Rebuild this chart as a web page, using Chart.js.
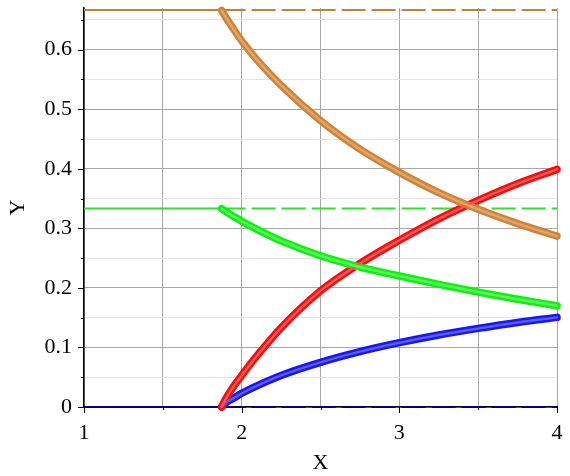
<!DOCTYPE html>
<html>
    <head>
        <title>X-Y curves</title>
        <style>
            body { margin: 0; background: #fff; }
            .chart-container { position: relative; width: 570px; height: 476px; }
        </style>
    </head>
    <body>
        <div class="chart-container">
            <canvas id="myChart" width="570" height="476"></canvas>
        </div>
        <script src="https://cdn.jsdelivr.net/npm/chart.js@4/dist/chart.umd.min.js"></script>
        <script>
            // values
            var xValues   = [1.873, 1.9, 1.95, 2.0, 2.1, 2.25, 2.5, 2.75, 3.0, 3.25, 3.5, 3.75, 4.0];
            var orangeY   = [0.666, 0.654, 0.634, 0.615, 0.582, 0.540, 0.481, 0.433, 0.394, 0.360, 0.332, 0.308, 0.287];
            var greenY    = [0.333, 0.328, 0.320, 0.312, 0.298, 0.279, 0.254, 0.235, 0.220, 0.206, 0.193, 0.181, 0.170];
            var redY      = [0.000, 0.014, 0.035, 0.053, 0.087, 0.133, 0.195, 0.241, 0.280, 0.316, 0.347, 0.375, 0.399];
            var blueY     = [0.000, 0.007, 0.015, 0.023, 0.036, 0.053, 0.075, 0.093, 0.108, 0.121, 0.132, 0.142, 0.1505];

            // flat lines: solid up to the break, dashed after it
            var lineX     = [1, 1.873, 4];
            var orangeLvl = 0.6667;
            var greenLvl  = 0.3333;
            var navyLvl   = 0;

            var xTickLabels = [1, 2, 3, 4];
            var yTickLabels = [0, 0.1, 0.2, 0.3, 0.4, 0.5, 0.6];

            var serif = "'Liberation Serif', 'Times New Roman', serif";

            function pts(xs, ys) {
                return xs.map(function (x, i) { return {x: x, y: ys[i]}; });
            }

            function flat(level, color, order) {
                return [{
                    data: pts([lineX[0], lineX[1]], [level, level]),
                    borderColor: color, borderWidth: 2, pointRadius: 0, order: order
                }, {
                    data: pts([lineX[1], lineX[2]], [level, level]),
                    borderColor: color, borderWidth: 2, borderDash: [24, 6], pointRadius: 0, order: order
                }];
            }

            function curve(ys, outer, inner) {
                return [{
                    data: pts(xValues, ys), borderColor: inner, borderWidth: 2.5,
                    pointRadius: 0, cubicInterpolationMode: 'monotone', borderCapStyle: 'round', order: 1
                }, {
                    data: pts(xValues, ys), borderColor: outer, borderWidth: 7.5,
                    pointRadius: 0, cubicInterpolationMode: 'monotone', borderCapStyle: 'round', order: 2
                }];
            }

            var datasets = []
                .concat(flat(orangeLvl, '#c97d35', 5))
                .concat(flat(greenLvl, '#33dd33', 5))
                .concat(flat(navyLvl, '#000080', 5))
                .concat(curve(orangeY, '#cd8438', '#e3a567'))
                .concat(curve(greenY, '#11ee11', '#55ff55'))
                .concat(curve(redY, '#f01010', '#ff5555'))
                .concat(curve(blueY, '#1818ee', '#5a5aff'));
            datasets.forEach(function (d) { d.clip = false; d.fill = false; });

            // short tick marks, longer on the labelled ones
            var tickMarks = {
                id: 'tickMarks',
                afterDraw: function (chart) {
                    var ctx = chart.ctx, a = chart.chartArea;
                    var xs = chart.scales.x, ys = chart.scales.y;
                    ctx.save();
                    ctx.strokeStyle = '#000';
                    ctx.lineWidth = 1;
                    ctx.beginPath();
                    ys.ticks.forEach(function (t) {
                        var y = Math.round(ys.getPixelForValue(t.value)) + 0.5;
                        var len = yTickLabels.indexOf(t.value) >= 0 ? 6 : 3;
                        ctx.moveTo(a.left - len, y); ctx.lineTo(a.left, y);
                    });
                    xs.ticks.forEach(function (t) {
                        var x = Math.round(xs.getPixelForValue(t.value)) + 0.5;
                        var len = xTickLabels.indexOf(t.value) >= 0 ? 6 : 3;
                        ctx.moveTo(x, a.bottom); ctx.lineTo(x, a.bottom + len);
                    });
                    ctx.stroke();
                    ctx.restore();
                }
            };

            var ctx = document.getElementById('myChart').getContext('2d');
            var chart = new Chart(ctx, {
                type: 'line',
                data: { datasets: datasets },
                plugins: [tickMarks],
                options: {
                    responsive: false,
                    animation: false,
                    layout: { padding: { top: 8, right: 13, left: 0, bottom: 0 } },
                    plugins: { legend: { display: false }, tooltip: { enabled: false } },
                    scales: {
                        x: {
                            type: 'linear', min: 1, max: 4,
                            afterBuildTicks: function (s) {
                                var t = [];
                                for (var v = 1; v <= 4.001; v += 0.5) t.push({value: Math.round(v * 10) / 10});
                                s.ticks = t;
                            },
                            afterFit: function (s) {
                                s.height = 69;
                                s.paddingLeft = 0; s.paddingRight = 0;
                            },
                            grid: { color: '#a6a6a6', drawTicks: false },
                            border: { color: '#000', width: 1.5 },
                            ticks: {
                                padding: 13, maxRotation: 0, autoSkip: false,
                                color: '#000', font: { family: serif, size: 22 },
                                callback: function (v) { return xTickLabels.indexOf(v) >= 0 ? String(v) : ''; }
                            },
                            title: { display: true, text: 'X', color: '#000', font: { family: serif, size: 22 }, padding: { top: 5, bottom: 0 } }
                        },
                        y: {
                            min: 0, max: 0.67,
                            afterBuildTicks: function (s) {
                                var t = [];
                                for (var i = 0; i <= 13; i++) t.push({value: Math.round(i * 5) / 100});
                                s.ticks = t;
                            },
                            afterFit: function (s) {
                                s.width = 84;
                                s.paddingTop = 0; s.paddingBottom = 0;
                            },
                            grid: {
                                drawTicks: false,
                                color: function (c) {
                                    return c.tick && yTickLabels.indexOf(c.tick.value) >= 0 ? '#a6a6a6' : '#e3e3e3';
                                }
                            },
                            border: { color: '#000', width: 1.5 },
                            ticks: {
                                padding: 12, autoSkip: false,
                                color: '#000', font: { family: serif, size: 22 },
                                callback: function (v) { return yTickLabels.indexOf(v) >= 0 ? String(v) : ''; }
                            },
                            title: { display: true, text: 'Y', color: '#000', font: { family: serif, size: 22 }, padding: { top: 5, bottom: 0 } }
                        }
                    }
                }
            });
        </script>
    </body>
</html>
